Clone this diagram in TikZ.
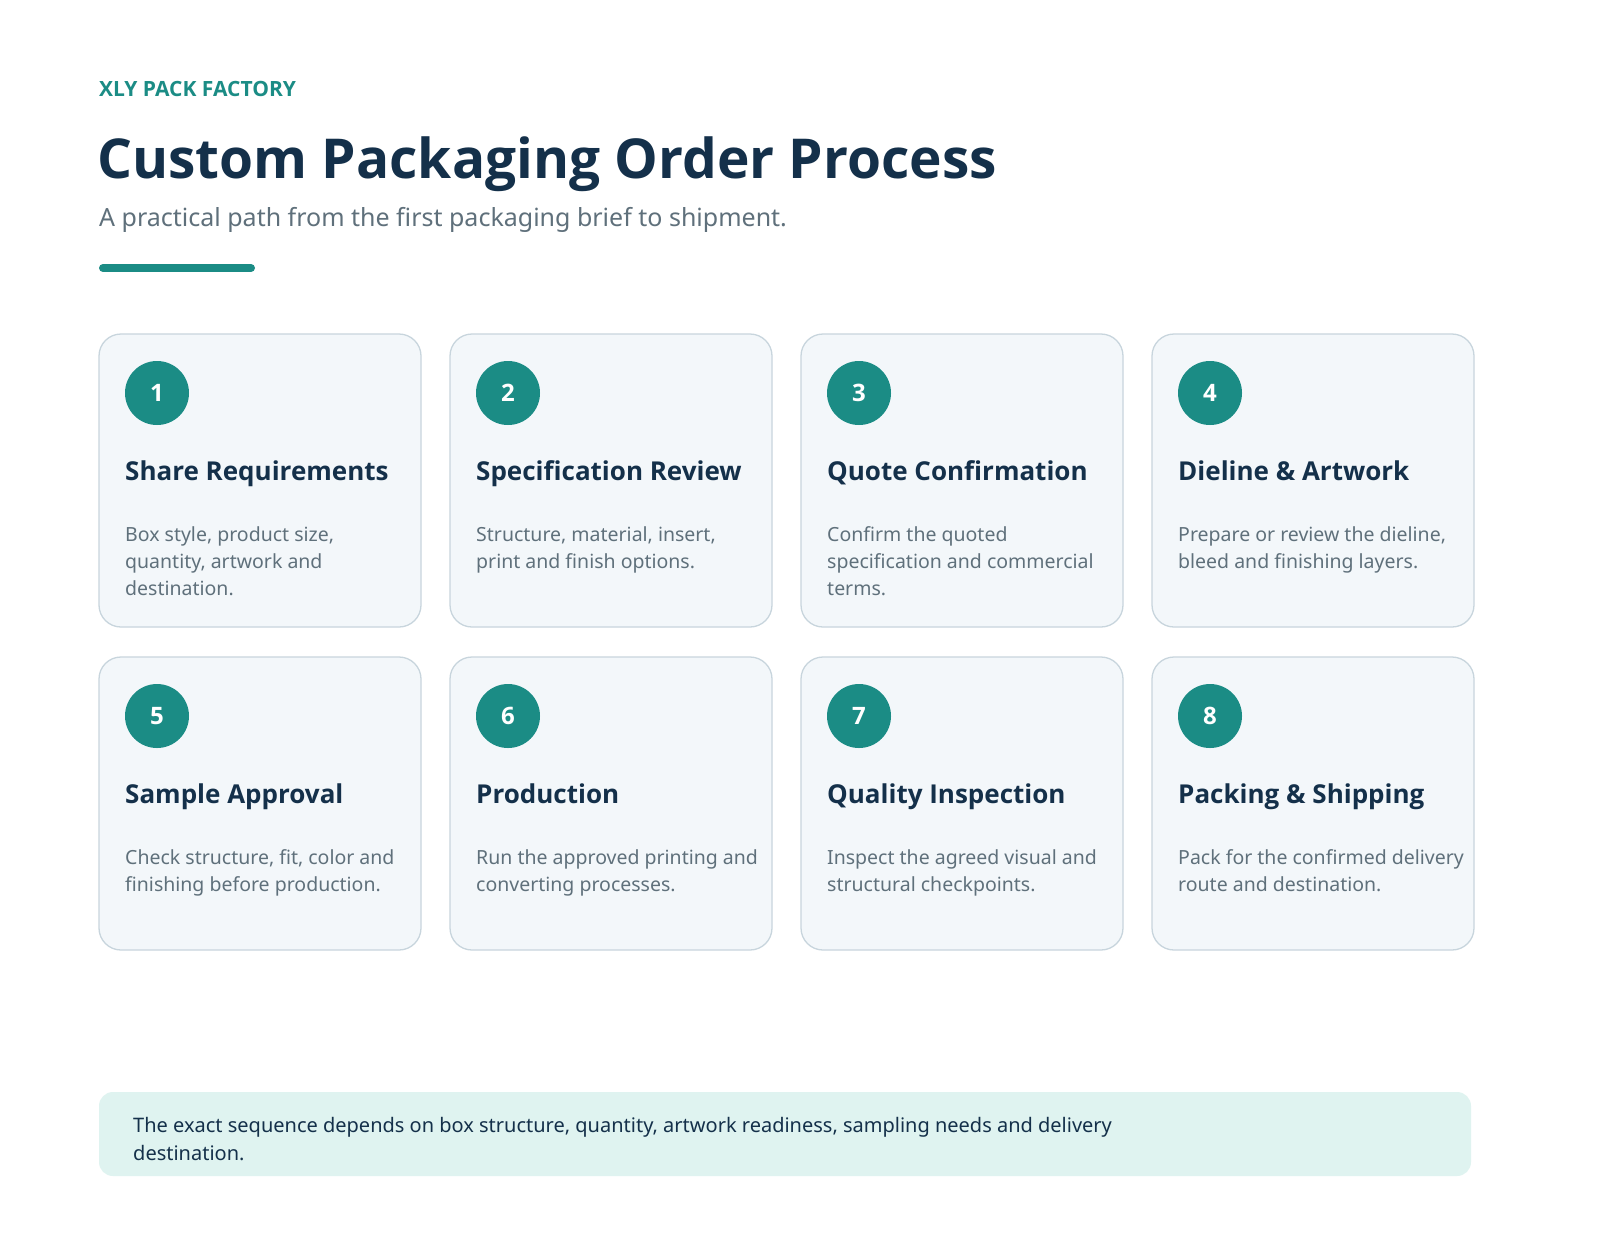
\documentclass[tikz,border=0pt]{standalone}
\usepackage{fontspec}
\setmainfont{Noto Sans}[BoldFont={Open Sans Bold}]
\definecolor{teal}{HTML}{1B8C85}
\definecolor{navy}{HTML}{14304A}
\definecolor{gtext}{HTML}{5F707B}
\definecolor{cardfill}{HTML}{F3F7FA}
\definecolor{cardline}{HTML}{C8D5DD}
\definecolor{notefill}{HTML}{DFF3F0}
\begin{document}
\begin{tikzpicture}[x=1pt,y=-1pt,
  card/.style={draw=cardline,line width=1.3pt,fill=cardfill,rounded corners=22pt},
  num/.style={circle,fill=teal,minimum size=64pt,inner sep=0pt,text=white,font=\fontsize{24}{28}\selectfont\bfseries},
  ctitle/.style={anchor=base west,inner sep=0pt,text=navy,font=\fontsize{26}{32}\selectfont\bfseries},
  cdesc/.style={anchor=north west,inner sep=0pt,text=gtext,align=left,font=\fontsize{19.5}{27.3}\selectfont}]
\useasboundingbox (0,0) rectangle (1600,1240);
\fill[white] (0,0) rectangle (1600,1240);
\node[anchor=base west,inner sep=0pt,text=teal,font=\fontsize{21}{26}\selectfont\bfseries] (brand) at (99,96) {XLY PACK FACTORY};
\node[anchor=base west,inner sep=0pt,text=navy,font=\fontsize{55}{64}\selectfont\bfseries] (title) at (97,178) {Custom Packaging Order Process};
\node[anchor=base west,inner sep=0pt,text=gtext,font=\fontsize{25}{30}\selectfont] (sub) at (99,226) {A practical path from the first packaging brief to shipment.};
\draw[teal,line width=8pt,line cap=round] (103,268) -- (251,268);
\newcommand\stepcard[6]{%
  \draw[card] (#1,#2) rectangle ++(322,293);
  \node[num] (n#3) at (#1+58,#2+59) {#3};
  \node[ctitle] (t#3) at (#1+26,#2+146) {#4};
  \node[cdesc] (d#3) at (#1+26,#2+192) {#5};
}
\stepcard{99}{334}{1}{Share Requirements}{Box style, product size,\\quantity, artwork and\\destination.}{}
\stepcard{450}{334}{2}{Specification Review}{Structure, material, insert,\\print and finish options.}{}
\stepcard{801}{334}{3}{Quote Confirmation}{Confirm the quoted\\specification and commercial\\terms.}{}
\stepcard{1152}{334}{4}{Dieline \& Artwork}{Prepare or review the dieline,\\bleed and finishing layers.}{}
\stepcard{99}{657}{5}{Sample Approval}{Check structure, fit, color and\\finishing before production.}{}
\stepcard{450}{657}{6}{Production}{Run the approved printing and\\converting processes.}{}
\stepcard{801}{657}{7}{Quality Inspection}{Inspect the agreed visual and\\structural checkpoints.}{}
\stepcard{1152}{657}{8}{Packing \& Shipping}{Pack for the confirmed delivery\\route and destination.}{}
\fill[notefill,rounded corners=14pt] (99,1092) rectangle (1471,1176);
\node[anchor=north west,inner sep=0pt,text=navy,align=left,font=\fontsize{20}{28}\selectfont] (note) at (133,1117) {The exact sequence depends on box structure, quantity, artwork readiness, sampling needs and delivery\\destination.};
\end{tikzpicture}
\end{document}
